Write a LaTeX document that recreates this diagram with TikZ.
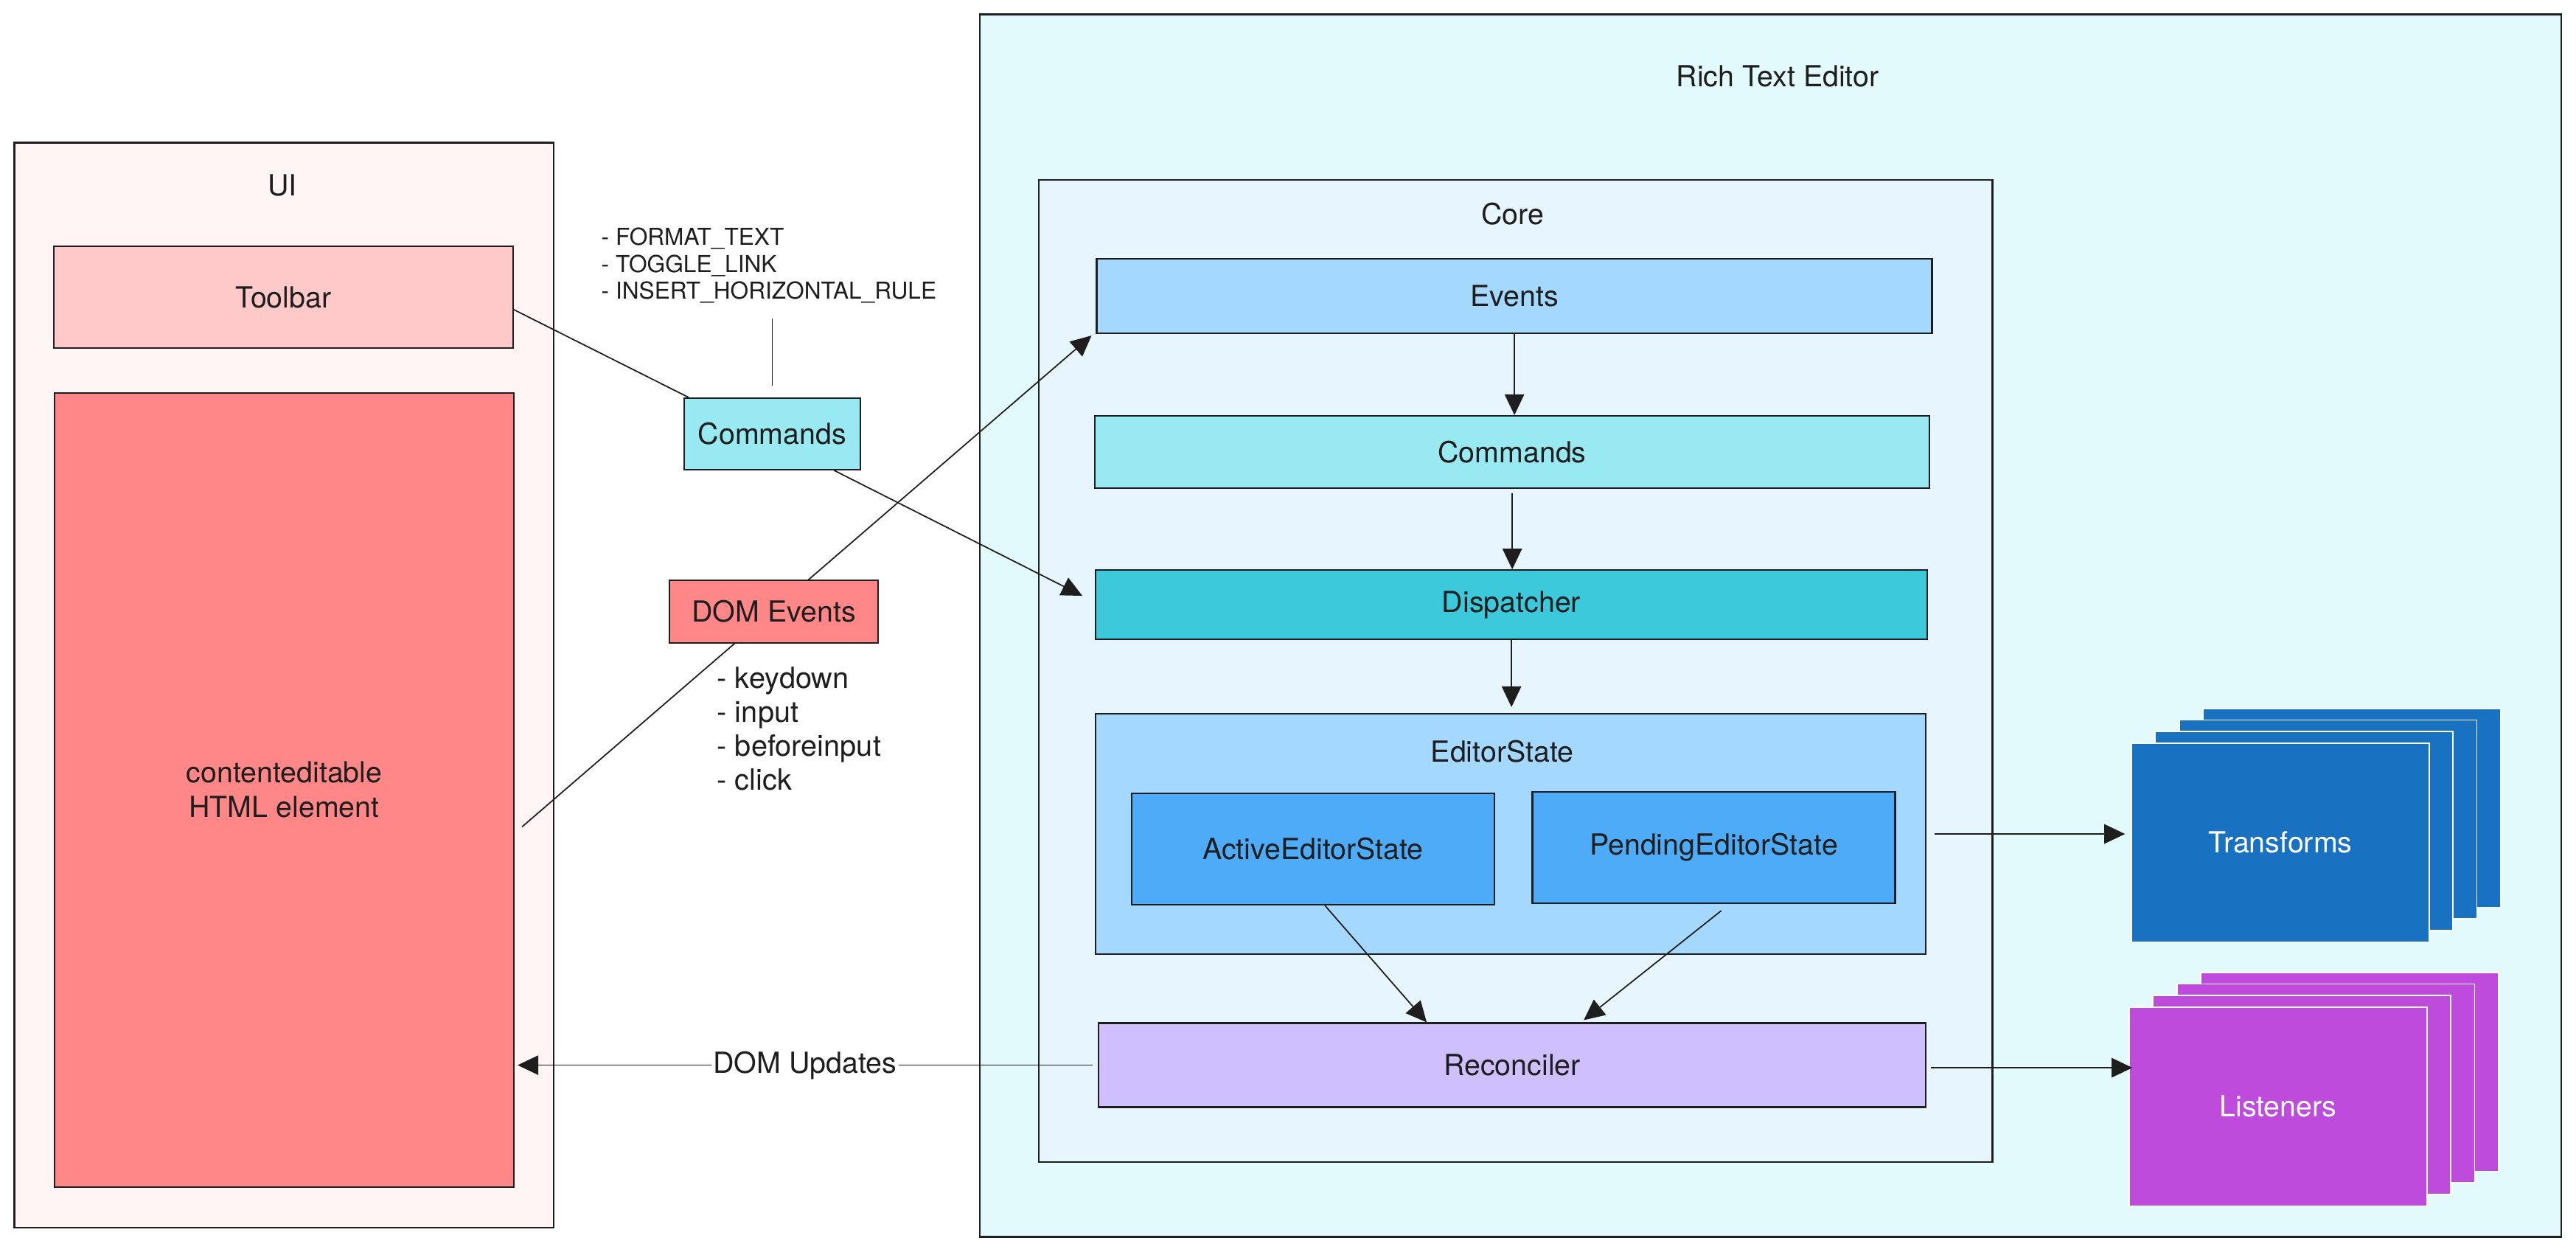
\documentclass[tikz,border=0pt]{standalone}
\usepackage{fontspec}
\setmainfont{TeX Gyre Heros}
\usepackage{xcolor}
\usetikzlibrary{arrows.meta,calc}

\definecolor{edge}{HTML}{1E1E1E}
\definecolor{uibg}{HTML}{FFF5F5}
\definecolor{toolbarbg}{HTML}{FFC9C9}
\definecolor{domred}{HTML}{FF8787}
\definecolor{cmdcyan}{HTML}{99E9F2}
\definecolor{rtebg}{HTML}{E3FAFC}
\definecolor{corebg}{HTML}{E7F5FF}
\definecolor{evtblue}{HTML}{A5D8FF}
\definecolor{dispcyan}{HTML}{3BC9DB}
\definecolor{stateblue}{HTML}{4DABF7}
\definecolor{recviolet}{HTML}{D0BFFF}
\definecolor{transblue}{HTML}{1971C2}
\definecolor{listgrape}{HTML}{BE4BDB}

\newcommand{\lbl}{\fontsize{11.2}{13.3}\selectfont}
\newcommand{\cmdfont}{\fontsize{9}{10.5}\selectfont}
\newcommand{\evtfont}{\fontsize{11.3}{13.1}\selectfont}

\begin{document}
\begin{tikzpicture}[scale=0.1]
\tikzstyle{every node}+=[inner sep=0pt, font=\lbl, text=edge]
\tikzstyle{container}=[draw=edge, line width=0.8pt]
\tikzstyle{box}=[draw=edge, line width=0.6pt]
\tikzstyle{stack}=[draw=white, line width=0.5pt, minimum width=40.4mm, minimum height=26.96mm]
\tikzstyle{line}=[draw=edge, line width=0.5pt]
\tikzstyle{arr}=[draw=edge, line width=0.5pt, -{Triangle[length=8pt,width=7.5pt]}]
\useasboundingbox (0,0) rectangle (349.4,-169.8);
% UI side
\node[container, fill=uibg, minimum width=73.14mm, minimum height=147.12mm] (ui) at (38.53,-92.94) {};
\node (uilabel) at (38.3,-25.2) {UI};
\node[box, fill=toolbarbg, minimum width=62.3mm, minimum height=13.8mm] (toolbar) at (38.45,-40.3) {Toolbar};
\node[box, fill=domred, minimum width=62.3mm, minimum height=107.74mm, align=center] (ce) at (38.55,-107.13) {contenteditable\\HTML element};
% commands between UI and editor
\node[anchor=west, align=left, font=\cmdfont] (cmdlist) at (81.5,-36.0) {- FORMAT\_TEXT\\- TOGGLE\_LINK\\- INSERT\_HORIZONTAL\_RULE};
\coordinate (cmdtick) at (104.75,-43.2);
\node[box, fill=cmdcyan, minimum width=23.9mm, minimum height=9.7mm] (cmdsmall) at (104.75,-58.85) {Commands};
\node[anchor=west, align=left, font=\evtfont] (evtlist) at (97.2,-98.8) {- keydown\\- input\\- beforeinput\\- click};
% editor
\node[container, fill=rtebg, minimum width=214.5mm, minimum height=165.8mm] (rte) at (240.15,-84.86) {};
\node (rtelabel) at (241.1,-10.36) {Rich Text Editor};
\node[container, fill=corebg, minimum width=129.36mm, minimum height=133.2mm] (core) at (205.58,-91.0) {};
\node (corelabel) at (205.2,-29.0) {Core};
\node[box, fill=evtblue, minimum width=113.3mm, minimum height=10.1mm] (events) at (205.4,-40.15) {Events};
\node[box, fill=cmdcyan, minimum width=113.2mm, minimum height=9.8mm] (corecmd) at (205.1,-61.3) {Commands};
\node[box, fill=dispcyan, minimum width=112.8mm, minimum height=9.35mm] (disp) at (205.0,-82.0) {Dispatcher};
\node[box, fill=evtblue, minimum width=112.65mm, minimum height=32.6mm] (es) at (204.9,-113.1) {};
\node (eslabel) at (203.75,-101.96) {EditorState};
\node[box, fill=stateblue, minimum width=49.2mm, minimum height=15.1mm] (active) at (178.1,-115.15) {ActiveEditorState};
\node[box, fill=stateblue, minimum width=49.2mm, minimum height=15.1mm] (pending) at (232.45,-114.95) {PendingEditorState};
\node[box, fill=recviolet, minimum width=112.25mm, minimum height=11.4mm] (rec) at (205.1,-144.45) {Reconciler};
% stacks
\foreach \i in {3,2,1}
  \node[stack, fill=transblue] (tr\i) at ({309.3+3.23*\i},{-114.28+1.57*\i}) {};
\node[stack, fill=transblue, text=white] (tr) at (309.3,-114.28) {Transforms};
\foreach \i in {3,2,1}
  \node[stack, fill=listgrape] (li\i) at ({309.0+3.23*\i},{-150.07+1.57*\i}) {};
\node[stack, fill=listgrape, text=white] (li) at (309.0,-150.07) {Listeners};
% connectors
\draw[line] ($(toolbar.east)+(0,-1.7)$) -- ($(cmdsmall.north west)+(0.7,0)$);
\draw[line] (cmdtick) -- ($(cmdsmall.north)+(0,1.6)$);
\draw[arr] ($(cmdsmall.south)+(8.4,0)$) -- ($(disp.west)+(-1.7,1.2)$);
\draw[arr] ($(ce.east)+(1,-5)$) -- ($(events.south west)+(-0.6,-0.2)$);
\draw[arr] (events.south) -- (events.south |- corecmd.north);
\draw[arr] ($(corecmd.south)+(0,-0.6)$) -- (corecmd.south |- disp.north);
\draw[arr] (disp.south) -- ($(disp.south |- es.north)+(0,0.8)$);
\draw[arr] ($(active.south)+(1.6,0)$) -- ($(rec.north)+(-11.6,0)$);
\draw[arr] ($(pending.south)+(1,-0.9)$) -- ($(rec.north)+(9.7,0.3)$);
\draw[arr] ($(rec.west)+(-0.7,0)$) -- ($(rec.west -| ce.east)+(0.4,0)$) node[midway, fill=white, inner sep=0.6pt] (domupd) {DOM Updates};
\draw[arr] ($(es.east)+(1.1,0)$) -- ($(es.east -| tr.west)+(-0.8,0)$);
\draw[arr] ($(rec.east)+(0.6,-0.35)$) -- ($(rec.east -| li.west)+(0.5,-0.35)$);
% DOM events box sits over its line
\node[box, fill=domred, minimum width=28.3mm, minimum height=8.5mm] (domevt) at (104.95,-82.95) {DOM Events};
\end{tikzpicture}
\end{document}
